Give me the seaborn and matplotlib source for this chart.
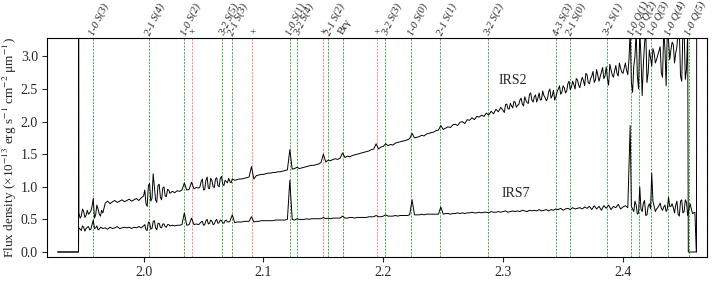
import numpy as np
import matplotlib
matplotlib.use("Agg")
import matplotlib.pyplot as plt
import seaborn as sns

# ---------------- data ----------------
grid_start = 1.946
grid_step = 0.002

# IRS2 flux on grid 1.946 ... 2.454 (rows of 10)
irs2_flux = [
    0.60, 0.55, 0.62, 0.56, 0.58, 0.63, 0.82, 0.57, 0.66, 0.55,   # 1.946
    0.60, 0.75, 0.78, 0.74, 0.77, 0.79, 0.76, 0.78, 0.80, 0.77,   # 1.966
    0.79, 0.81, 0.78, 0.80, 0.82, 0.79, 0.83, 0.86, 0.74, 1.02,   # 1.986
    0.78, 1.20, 0.80, 1.02, 0.84, 0.98, 0.86, 0.96, 0.90, 0.93,   # 2.006
    0.91, 0.94, 0.93, 0.95, 1.06, 0.95, 0.96, 1.07, 0.97, 0.99,   # 2.026
    0.98, 1.08, 0.95, 1.10, 0.98, 1.13, 1.00, 1.12, 1.02, 1.13,   # 2.046
    1.04, 1.10, 1.06, 1.08, 1.12, 1.10, 1.11, 1.12, 1.12, 1.13,   # 2.066
    1.14, 1.15, 1.31, 1.12, 1.17, 1.18, 1.19, 1.19, 1.20, 1.21,   # 2.086
    1.21, 1.22, 1.22, 1.23, 1.23, 1.24, 1.25, 1.26, 1.57, 1.27,   # 2.106
    1.28, 1.30, 1.28, 1.29, 1.30, 1.31, 1.32, 1.33, 1.33, 1.34,   # 2.126
    1.35, 1.37, 1.50, 1.38, 1.41, 1.40, 1.42, 1.43, 1.42, 1.44,   # 2.146
    1.52, 1.45, 1.47, 1.46, 1.48, 1.49, 1.50, 1.51, 1.52, 1.53,   # 2.166
    1.54, 1.55, 1.57, 1.58, 1.66, 1.58, 1.61, 1.62, 1.66, 1.63,   # 2.186
    1.65, 1.64, 1.67, 1.68, 1.69, 1.70, 1.71, 1.72, 1.74, 1.82,   # 2.206
    1.75, 1.76, 1.77, 1.79, 1.78, 1.81, 1.82, 1.83, 1.84, 1.86,   # 2.226
    1.87, 1.94, 1.88, 1.90, 1.92, 1.91, 1.95, 1.96, 1.94, 1.99,   # 2.246
    2.00, 1.97, 2.03, 2.02, 2.06, 2.03, 2.08, 2.07, 2.10, 2.08,   # 2.266
    2.13, 2.10, 2.16, 2.12, 2.19, 2.15, 2.22, 2.17, 2.26, 2.20,   # 2.286
    2.28, 2.21, 2.30, 2.25, 2.33, 2.27, 2.38, 2.29, 2.42, 2.33,   # 2.306
    2.38, 2.30, 2.44, 2.34, 2.40, 2.32, 2.46, 2.36, 2.48, 2.38,   # 2.326
    2.50, 2.42, 2.55, 2.44, 2.58, 2.49, 2.62, 2.50, 2.64, 2.52,   # 2.346
    2.68, 2.55, 2.72, 2.58, 2.70, 2.60, 2.80, 2.62, 2.76, 2.66,   # 2.366
    2.84, 2.56, 2.80, 2.68, 2.86, 2.70, 2.82, 2.74, 2.90, 2.72,   # 2.386
    3.40, 2.45, 3.00, 2.70, 3.40, 2.40, 3.20, 2.60, 3.10, 2.85,   # 2.406
    3.05, 2.95, 3.08, 2.75, 3.40, 2.55, 3.25, 3.10, 3.18, 3.05,   # 2.426
    3.40, 2.70, 3.40, 2.65, 3.40,                                 # 2.446
]

# IRS7 flux on the same grid
irs7_flux = [
    0.37, 0.33, 0.38, 0.36, 0.39, 0.35, 0.49, 0.37, 0.34, 0.38,   # 1.946
    0.36, 0.37, 0.35, 0.38, 0.36, 0.37, 0.39, 0.36, 0.37, 0.38,   # 1.966
    0.37, 0.38, 0.36, 0.38, 0.37, 0.39, 0.37, 0.40, 0.34, 0.46,   # 1.986
    0.35, 0.47, 0.37, 0.44, 0.38, 0.43, 0.39, 0.42, 0.40, 0.41,   # 2.006
    0.40, 0.41, 0.41, 0.42, 0.60, 0.41, 0.42, 0.52, 0.42, 0.43,   # 2.026
    0.42, 0.46, 0.41, 0.48, 0.43, 0.49, 0.42, 0.48, 0.44, 0.49,   # 2.046
    0.45, 0.48, 0.46, 0.47, 0.57, 0.45, 0.46, 0.46, 0.46, 0.47,   # 2.066
    0.47, 0.47, 0.54, 0.46, 0.47, 0.47, 0.48, 0.48, 0.48, 0.48,   # 2.086
    0.48, 0.48, 0.49, 0.49, 0.49, 0.49, 0.49, 0.50, 1.10, 0.50,   # 2.106
    0.49, 0.51, 0.50, 0.50, 0.50, 0.51, 0.50, 0.51, 0.51, 0.51,   # 2.126
    0.51, 0.51, 0.53, 0.51, 0.52, 0.51, 0.52, 0.52, 0.52, 0.52,   # 2.146
    0.55, 0.52, 0.52, 0.53, 0.53, 0.52, 0.53, 0.53, 0.53, 0.53,   # 2.166
    0.53, 0.54, 0.54, 0.54, 0.56, 0.54, 0.54, 0.55, 0.57, 0.55,   # 2.186
    0.55, 0.55, 0.56, 0.55, 0.56, 0.56, 0.56, 0.56, 0.57, 0.80,   # 2.206
    0.57, 0.57, 0.57, 0.58, 0.57, 0.58, 0.58, 0.58, 0.58, 0.58,   # 2.226
    0.58, 0.69, 0.58, 0.59, 0.59, 0.58, 0.59, 0.59, 0.60, 0.59,   # 2.246
    0.60, 0.59, 0.60, 0.60, 0.61, 0.60, 0.60, 0.61, 0.60, 0.61,   # 2.266
    0.61, 0.60, 0.62, 0.61, 0.61, 0.62, 0.61, 0.62, 0.63, 0.61,   # 2.286
    0.62, 0.63, 0.62, 0.63, 0.62, 0.64, 0.63, 0.62, 0.64, 0.63,   # 2.306
    0.64, 0.63, 0.65, 0.63, 0.64, 0.65, 0.63, 0.65, 0.64, 0.66,   # 2.326
    0.65, 0.67, 0.64, 0.66, 0.67, 0.65, 0.68, 0.66, 0.67, 0.68,   # 2.346
    0.66, 0.69, 0.67, 0.70, 0.65, 0.71, 0.66, 0.70, 0.64, 0.71,   # 2.366
    0.67, 0.72, 0.65, 0.70, 0.68, 0.73, 0.66, 0.69, 0.71, 0.68,   # 2.386
    1.94, 0.66, 0.78, 0.58, 1.00, 0.62, 0.79, 0.57, 0.74, 1.21,   # 2.406
    0.70, 0.66, 0.71, 0.67, 0.69, 0.62, 0.84, 0.70, 0.68, 0.72,   # 2.426
    0.58, 0.78, 0.60, 0.80, 0.56,                                 # 2.446
]

# extra samples in the noisy stretches (odd 0.001 positions)
irs2_extra_wl = ([1.947 + 0.002 * i for i in range(10)]
                 + [2.001 + 0.002 * i for i in range(11)]
                 + [2.047 + 0.002 * i for i in range(14)]
                 + [2.301 + 0.002 * i for i in range(77)])
irs2_extra_fx = [
    0.52, 0.66, 0.53, 0.64, 0.60, 0.70, 0.52, 0.72, 0.58, 0.64,
    0.95, 0.70, 1.05, 0.82, 1.00, 0.76, 1.04, 0.80, 1.00, 0.85, 0.95,
    1.00, 1.12, 0.96, 1.15, 0.97, 1.10, 0.99, 1.14, 1.00, 1.16, 1.02, 1.08, 1.13, 1.06,
    2.14, 2.27, 2.19, 2.24, 2.31, 2.22, 2.26, 2.36, 2.24, 2.33,
    2.28, 2.44, 2.30, 2.41, 2.36, 2.33, 2.47, 2.37, 2.35, 2.50,
    2.40, 2.33, 2.46, 2.55, 2.45, 2.52, 2.47, 2.62, 2.53, 2.57,
    2.66, 2.56, 2.61, 2.63, 2.74, 2.60, 2.66, 2.77, 2.64, 2.71,
    2.69, 2.83, 2.70, 2.66, 2.88, 2.72, 2.78, 2.74, 2.90, 2.76,
    2.82, 2.79, 2.95, 2.60, 2.85, 3.40, 2.50, 3.00, 2.88, 3.40,
    2.75, 2.98, 3.12, 2.90, 3.02, 3.15, 2.68, 3.12, 3.40, 2.95,
    3.22, 2.90, 3.15, 3.40, 2.62, 3.40, 2.80,
]
irs7_extra_wl = ([1.947 + 0.002 * i for i in range(10)]
                 + [2.001 + 0.002 * i for i in range(11)]
                 + [2.047 + 0.002 * i for i in range(13)]
                 + [2.407 + 0.002 * i for i in range(24)])
irs7_extra_fx = [
    0.35, 0.40, 0.32, 0.38, 0.34, 0.42, 0.36, 0.40, 0.35, 0.37,
    0.42, 0.33, 0.45, 0.36, 0.48, 0.34, 0.44, 0.37, 0.43, 0.38, 0.42,
    0.44, 0.47, 0.42, 0.50, 0.44, 0.47, 0.43, 0.50, 0.45, 0.48, 0.44, 0.49, 0.46,
    0.70, 0.62, 0.72, 0.60, 0.66, 0.75, 0.56, 0.70, 0.66, 0.78, 0.62, 0.68,
    0.75, 0.64, 0.72, 0.66, 0.70, 0.74, 0.60, 0.78, 0.55, 0.80, 0.62, 0.76,
]

# detector edges (wavelength, flux)
irs2_head_wl = [1.9283, 1.9457, 1.9458]
irs2_head_fx = [0.0, 0.0, 3.5]
irs2_tail_wl = [2.4545, 2.4613, 2.4615, 2.4800]
irs2_tail_fx = [0.0, 0.0, 3.5, 3.5]
irs7_head_wl = [1.9283, 1.9457, 1.9458]
irs7_head_fx = [0.0, 0.0, 0.37]
irs7_tail_wl = [2.456, 2.458, 2.460, 2.4612]
irs7_tail_fx = [0.74, 0.59, 0.61, 0.0]

h2_names = ["1-0 S(3)", "2-1 S(4)", "1-0 S(2)", "3-2 S(5)", "2-1 S(3)",
            "1-0 S(1)", "3-2 S(4)", "2-1 S(2)", "3-2 S(3)", "1-0 S(0)",
            "2-1 S(1)", "3-2 S(2)", "4-3 S(3)", "2-1 S(0)", "3-2 S(1)",
            "1-0 Q(1)", "1-0 Q(2)", "1-0 Q(3)", "1-0 Q(4)", "1-0 Q(5)"]
h2_wl = [1.9576, 2.0041, 2.0338, 2.0656, 2.0735,
         2.1218, 2.1280, 2.1542, 2.2014, 2.2235,
         2.2477, 2.2870, 2.3445, 2.3556, 2.3864,
         2.4066, 2.4134, 2.4237, 2.4375, 2.4548]
brg_name = "Brγ"
brg_wl = 2.1661
plus_wl = [2.0404, 2.0907, 2.1495, 2.1946]

labels = ["IRS2", "IRS7"]
label_pos = [(2.3085, 2.63), (2.3105, 0.89)]


# ---------------- build series ----------------
def build(head_wl, head_fx, flux, extra_wl, extra_fx, tail_wl, tail_fx):
    grid = grid_start + grid_step * np.arange(len(flux))
    wl = np.concatenate([grid, extra_wl])
    fx = np.concatenate([flux, extra_fx])
    order = np.argsort(wl)
    wl = np.concatenate([head_wl, wl[order], tail_wl])
    fx = np.concatenate([head_fx, fx[order], tail_fx])
    return wl, fx


x2, y2 = build(irs2_head_wl, irs2_head_fx, irs2_flux, irs2_extra_wl,
               irs2_extra_fx, irs2_tail_wl, irs2_tail_fx)
x7, y7 = build(irs7_head_wl, irs7_head_fx, irs7_flux, irs7_extra_wl,
               irs7_extra_fx, irs7_tail_wl, irs7_tail_fx)

# ---------------- style ----------------
sns.set_style("ticks")
plt.rcParams["font.family"] = ["Liberation Serif", "DejaVu Serif"]
plt.rcParams["mathtext.fontset"] = "stix"
plt.rcParams["axes.linewidth"] = 0.8

fig = plt.figure(figsize=(7.14, 2.82), dpi=100)
ax = fig.add_axes([47 / 714, 1 - 257 / 282, 660 / 714, 219 / 282])

# vertical marker lines
for w in h2_wl:
    ax.axvline(w, color="#2ca02c", lw=0.6, ls=(0, (2.5, 1.5)), zorder=1)
ax.axvline(brg_wl, color="#2ca02c", lw=0.6, ls=(0, (2.5, 1.5)), zorder=1)
for w in plus_wl:
    ax.axvline(w, color="#ff7070", lw=0.6, ls=(0, (2.5, 1.5)), zorder=1)

sns.lineplot(x=x2, y=y2, ax=ax, color="black", lw=0.7, estimator=None,
             sort=False, zorder=3)
sns.lineplot(x=x7, y=y7, ax=ax, color="black", lw=0.7, estimator=None,
             sort=False, zorder=3)

ax.set_xlim(1.9194, 2.4701)
ax.set_ylim(-0.077, 3.283)
ax.set_xticks([2.0, 2.1, 2.2, 2.3, 2.4])
ax.set_xticklabels(["2.0", "2.1", "2.2", "2.3", "2.4"])
ax.set_yticks([0.0, 0.5, 1.0, 1.5, 2.0, 2.5, 3.0])
ax.set_yticklabels(["0.0", "0.5", "1.0", "1.5", "2.0", "2.5", "3.0"])
ax.tick_params(axis="both", direction="out", length=3.5, width=0.8,
               labelsize=10, pad=3)
for s in ax.spines.values():
    s.set_visible(True)
    s.set_color("black")
ax.set_ylabel("Flux density (×10$^{-13}$ erg s$^{-1}$ cm$^{-2}$ μm$^{-1}$)",
              fontsize=9.5, labelpad=1)

# line labels above the axes
for name, w in zip(h2_names, h2_wl):
    ax.annotate(name, xy=(w, 1.0), xycoords=("data", "axes fraction"),
                xytext=(-0.5, 2.5), textcoords="offset points",
                rotation=65, rotation_mode="anchor", ha="left", va="center",
                fontsize=7.5, style="italic", annotation_clip=False)
ax.annotate(brg_name, xy=(brg_wl, 1.0), xycoords=("data", "axes fraction"),
            xytext=(-1, 3), textcoords="offset points",
            rotation=60, rotation_mode="anchor", ha="left", va="center",
            fontsize=8, annotation_clip=False)
for w in plus_wl:
    ax.annotate("+", xy=(w, 1.0), xycoords=("data", "axes fraction"),
                xytext=(0, 3.5), textcoords="offset points",
                ha="center", va="center", fontsize=8, annotation_clip=False)

for lab, (lx, ly) in zip(labels, label_pos):
    ax.text(lx, ly, lab, ha="center", va="center", fontsize=10)

fig.savefig("out.png", dpi=100)
